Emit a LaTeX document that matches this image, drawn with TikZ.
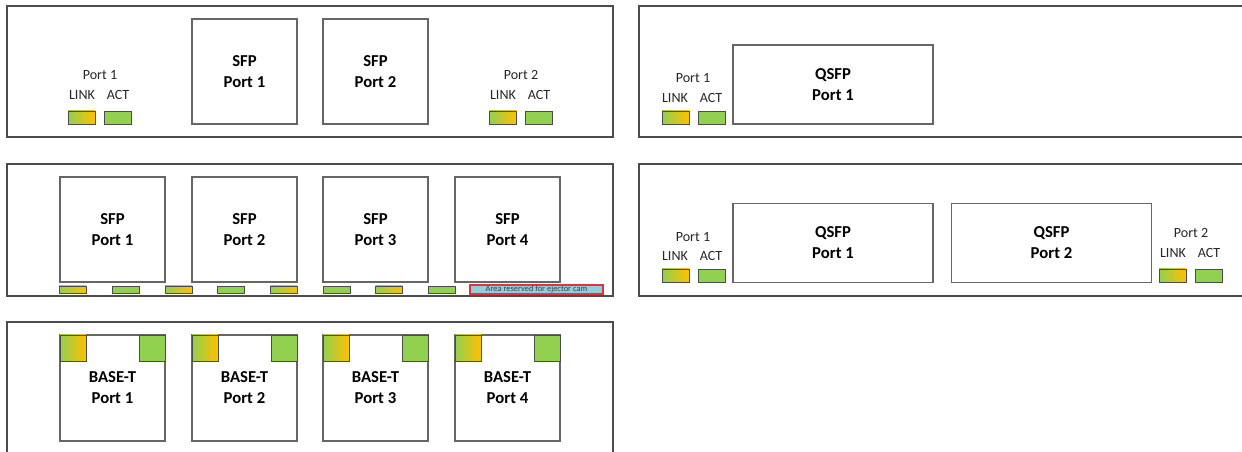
\documentclass[tikz,border=0pt]{standalone}
\usepackage{fontspec}
\setmainfont{Carlito}
\usepackage{tikz}
\usetikzlibrary{positioning}
\definecolor{ledgreen}{HTML}{92D050}
\definecolor{ledamber}{HTML}{FFC000}
\definecolor{ejectblue}{HTML}{92CDDC}
\definecolor{ejectred}{HTML}{E8303A}
\newcommand\portfont{\fontsize{9.5}{12}\selectfont\bfseries}
\newcommand\lblfont{\fontsize{8}{9}\selectfont}
\tikzset{
  % frontplatar
  panel/.style={draw=black!70,line width=0.6pt},
  port/.style={draw=black!60,fill=white,line width=0.6pt,align=center,
               font=\portfont,inner sep=0pt},
  sfp/.style={port,minimum width=2.1cm,minimum height=2.1cm},
  qsfp/.style={port,minimum width=4cm,minimum height=1.58cm},
  baset/.style={port,minimum width=2.1cm,minimum height=2.12cm},
  lbl/.style={font=\lblfont,text=black!85,inner sep=0pt},
  % lysdioder
  led/.style={draw=black!70,line width=0.5pt,inner sep=0pt,
              minimum width=0.54cm,minimum height=0.26cm},
  ledlink/.style={led,left color=ledgreen,right color=ledamber},
  ledact/.style={led,fill=ledgreen},
  strip/.style={minimum height=0.14cm},
  sq/.style={minimum width=0.52cm,minimum height=0.52cm},
  eject/.style={draw=ejectred,fill=ejectblue,line width=0.6pt,inner sep=0pt,
                minimum width=2.66cm,minimum height=0.18cm,
                font=\fontsize{4.8}{5}\selectfont,text=black!75},
}
\begin{document}
\begin{tikzpicture}[x=0.02cm,y=-0.02cm]
\useasboundingbox (0,0) rectangle (1242,452);
  % 2 x SFP
  \draw[panel] (7,6) rectangle (613,137);
  \node[sfp] (sfpA1) at (244.5,71.5) {SFP\\Port 1};
  \node[sfp] (sfpA2) at (375.5,71.5) {SFP\\Port 2};
  \node[lbl] (pA1) at (100,75) {Port 1};
  \node[lbl] (lkA1) at (82,95) {LINK};
  \node[lbl] (acA1) at (118,95) {ACT};
  \node[ledlink] (llA1) at (81.5,117.5) {};
  \node[ledact] (laA1) at (117.5,117.5) {};
  \node[lbl] (pA2) at (521,75) {Port 2};
  \node[lbl] (lkA2) at (503,95) {LINK};
  \node[lbl] (acA2) at (539,95) {ACT};
  \node[ledlink] (llA2) at (503,117.5) {};
  \node[ledact] (laA2) at (539,117.5) {};
  % 4 x SFP
  \draw[panel] (7,164) rectangle (613,296);
  \node[sfp] (sfpB1) at (112.5,229.5) {SFP\\Port 1};
  \node[sfp] (sfpB2) at (244.5,229.5) {SFP\\Port 2};
  \node[sfp] (sfpB3) at (375.5,229.5) {SFP\\Port 3};
  \node[sfp] (sfpB4) at (507.5,229.5) {SFP\\Port 4};
  \node[ledlink,strip] (llB1) at (72.5,289.5) {};
  \node[ledact,strip] (laB1) at (125.5,289.5) {};
  \node[ledlink,strip] (llB2) at (178.5,289.5) {};
  \node[ledact,strip] (laB2) at (231,289.5) {};
  \node[ledlink,strip] (llB3) at (284,289.5) {};
  \node[ledact,strip] (laB3) at (336.5,289.5) {};
  \node[ledlink,strip] (llB4) at (389,289.5) {};
  \node[ledact,strip] (laB4) at (441.5,289.5) {};
  \node[eject] (ej) at (536.5,289.5) {Area reserved for ejector cam};
  % 4 x BASE-T
  \draw[panel] (7,453) -- (7,322) -- (613,322) -- (613,453);
  \node[baset] (btC1) at (112.5,388) {BASE-T\\Port 1};
  \node[baset] (btC2) at (244.5,388) {BASE-T\\Port 2};
  \node[baset] (btC3) at (375.5,388) {BASE-T\\Port 3};
  \node[baset] (btC4) at (507.5,388) {BASE-T\\Port 4};
  \node[ledlink,sq] (llC1) at (73,348) {};
  \node[ledact,sq] (laC1) at (152,348) {};
  \node[ledlink,sq] (llC2) at (205,348) {};
  \node[ledact,sq] (laC2) at (284,348) {};
  \node[ledlink,sq] (llC3) at (336,348) {};
  \node[ledact,sq] (laC3) at (415,348) {};
  \node[ledlink,sq] (llC4) at (468,348) {};
  \node[ledact,sq] (laC4) at (547,348) {};
  % 1 x QSFP
  \draw[panel] (1243,6) -- (639,6) -- (639,137) -- (1243,137);
  \node[qsfp] (qsD1) at (833,84.5) {QSFP\\Port 1};
  \node[lbl] (pD1) at (693,78) {Port 1};
  \node[lbl] (lkD1) at (675,98) {LINK};
  \node[lbl] (acD1) at (711,98) {ACT};
  \node[ledlink] (llD1) at (675.5,117.5) {};
  \node[ledact] (laD1) at (711.5,117.5) {};
  % 2 x QSFP
  \draw[panel] (1243,164) -- (639,164) -- (639,296) -- (1243,296);
  \node[qsfp] (qsE1) at (833,243) {QSFP\\Port 1};
  \node[qsfp] (qsE2) at (1051.5,243) {QSFP\\Port 2};
  \node[lbl] (pE1) at (693,237) {Port 1};
  \node[lbl] (lkE1) at (675,256) {LINK};
  \node[lbl] (acE1) at (711,256) {ACT};
  \node[ledlink] (llE1) at (675.5,275.5) {};
  \node[ledact] (laE1) at (711.5,275.5) {};
  \node[lbl] (pE2) at (1191,233) {Port 2};
  \node[lbl] (lkE2) at (1173,253) {LINK};
  \node[lbl] (acE2) at (1209,253) {ACT};
  \node[ledlink] (llE2) at (1172.5,275.5) {};
  \node[ledact] (laE2) at (1208.5,275.5) {};
\end{tikzpicture}
\end{document}
